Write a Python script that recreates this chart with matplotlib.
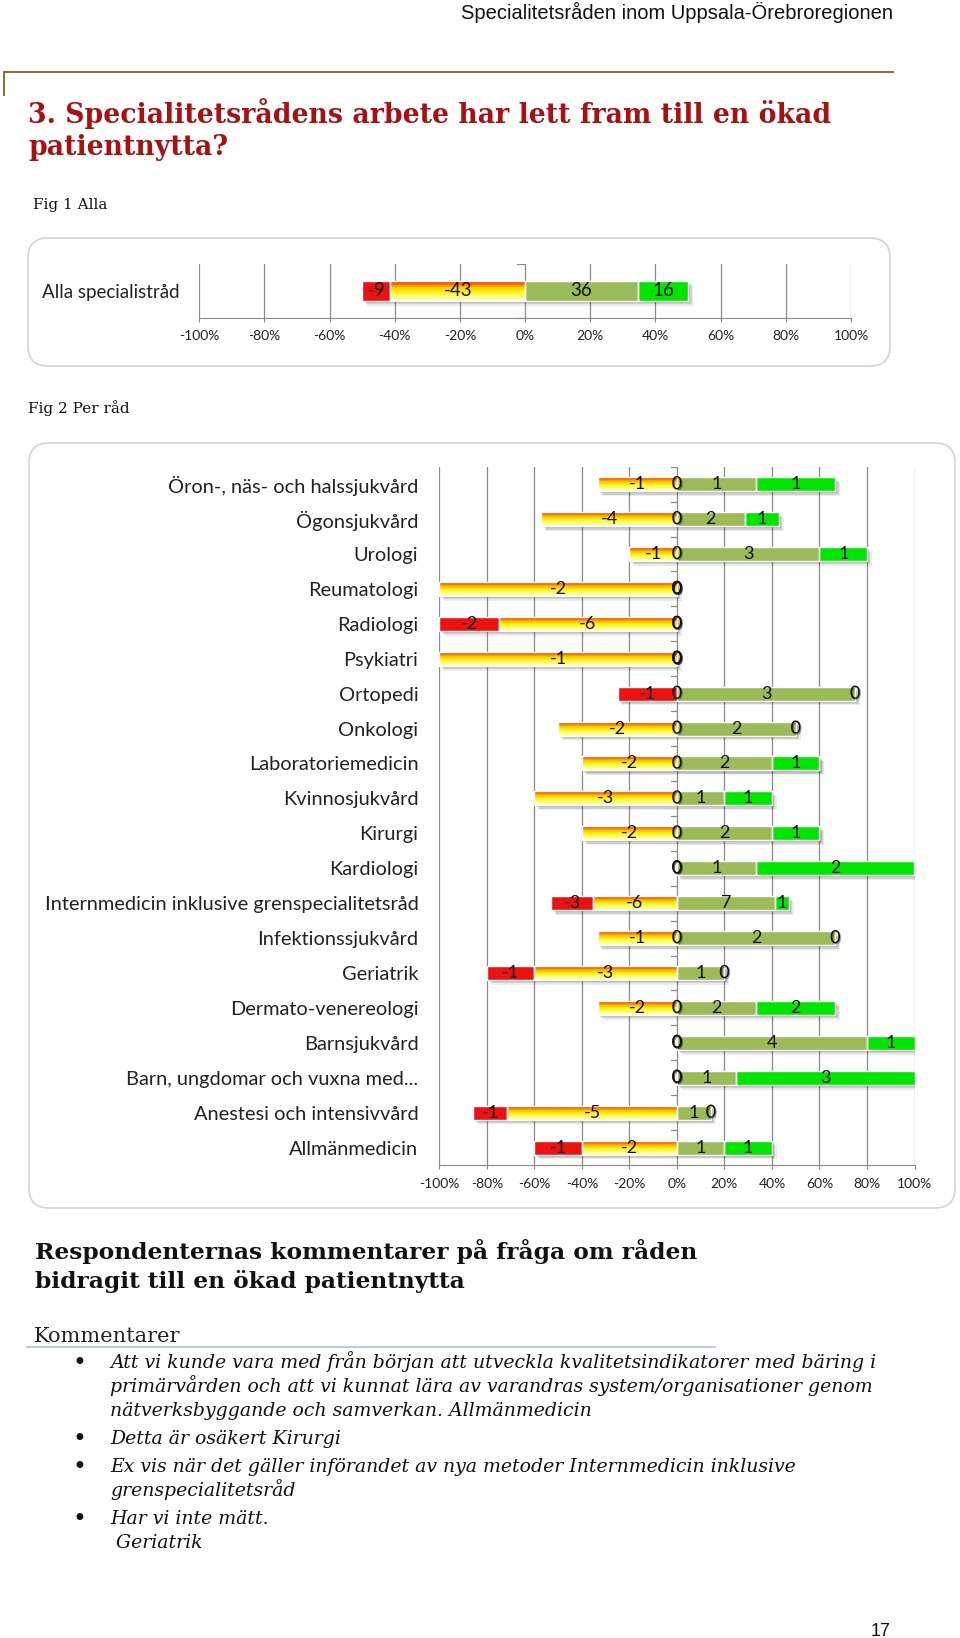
import numpy as np
import matplotlib.pyplot as plt
import matplotlib.patheffects as pe
from matplotlib.patches import FancyBboxPatch
from matplotlib.lines import Line2D
from matplotlib.colors import LinearSegmentedColormap

W, H = 960, 1638

# Fig 1 - all councils
all_label = ["Alla specialistråd"]
all_very_neg = [-9]
all_neg = [-43]
all_pos = [36]
all_very_pos = [16]

# Fig 2 - per council (top to bottom)
councils = [
    "Öron-, näs- och halssjukvård",
    "Ögonsjukvård",
    "Urologi",
    "Reumatologi",
    "Radiologi",
    "Psykiatri",
    "Ortopedi",
    "Onkologi",
    "Laboratoriemedicin",
    "Kvinnosjukvård",
    "Kirurgi",
    "Kardiologi",
    "Internmedicin inklusive grenspecialitetsråd",
    "Infektionssjukvård",
    "Geriatrik",
    "Dermato-venereologi",
    "Barnsjukvård",
    "Barn, ungdomar och vuxna med...",
    "Anestesi och intensivvård",
    "Allmänmedicin",
]
very_neg = [0, 0, 0, 0, -2, 0, -1, 0, 0, 0, 0, 0, -3, 0, -1, 0, 0, 0, -1, -1]
neg = [-1, -4, -1, -2, -6, -1, 0, -2, -2, -3, -2, 0, -6, -1, -3, -2, 0, 0, -5, -2]
pos = [1, 2, 3, 0, 0, 0, 3, 2, 2, 1, 2, 1, 7, 2, 1, 2, 4, 1, 1, 1]
very_pos = [1, 1, 1, 0, 0, 0, 0, 0, 1, 1, 1, 2, 1, 0, 0, 2, 1, 3, 0, 1]

tick_values = [-100, -80, -60, -40, -20, 0, 20, 40, 60, 80, 100]

comments = [
    ["Att vi kunde vara med från början att utveckla kvalitetsindikatorer med bäring i",
     "primärvården och att vi kunnat lära av varandras system/organisationer genom",
     "nätverksbyggande och samverkan. Allmänmedicin"],
    ["Detta är osäkert Kirurgi"],
    ["Ex vis när det gäller införandet av nya metoder Internmedicin inklusive",
     "grenspecialitetsråd"],
    ["Har vi inte mätt.",
     " Geriatrik"],
]

RED = '#EE1111'
OLIVE = '#9BBB59'
GREEN = '#00E600'
GRID = '#8A8A8A'
TITLE_RED = '#AA1010'
BROWN = '#94692D'
SANS = ['Lato', 'DejaVu Sans']
SERIF = ['DejaVu Serif']

grad_cmap = LinearSegmentedColormap.from_list('neg', [
    (0.0, '#E82000'), (0.15, '#FF6A00'), (0.3, '#FFC000'),
    (0.5, '#FFF000'), (0.75, '#FFFF70'), (1.0, '#FFFFE0')])


def page_text(x, y, s, **kw):
    fig.text(x / W, 1 - y / H, s, **kw)


def draw_bars(ax, labels, vneg, ng, ps, vps, bar_h, label_size, cat_size, cat_pad):
    n = len(labels)
    ys = np.arange(n)[::-1]
    grad = np.linspace(0, 1, 64).reshape(-1, 1)
    shadow = [pe.SimplePatchShadow(offset=(1.5, -1.5), shadow_rgbFace='k', alpha=0.12),
              pe.SimplePatchShadow(offset=(2.5, -2.5), shadow_rgbFace='k', alpha=0.12),
              pe.SimplePatchShadow(offset=(3.5, -3.5), shadow_rgbFace='k', alpha=0.08),
              pe.Normal()]
    zero_fx = [pe.SimplePatchShadow(offset=(0.8, -0.8), shadow_rgbFace='k', alpha=0.35), pe.Normal()]
    for i in range(n):
        y = ys[i]
        total = abs(vneg[i]) + abs(ng[i]) + ps[i] + vps[i]
        p_vn = abs(vneg[i]) / total * 100
        p_n = abs(ng[i]) / total * 100
        p_p = ps[i] / total * 100
        p_vp = vps[i] / total * 100
        left = -(p_vn + p_n)
        right = p_p + p_vp

        sh = ax.barh(y, right - left, left=left, height=bar_h, color='white', zorder=2)[0]
        sh.set_path_effects(shadow)

        if p_vn > 0:
            ax.barh(y, p_vn, left=-(p_n + p_vn), height=bar_h, color=RED, zorder=3)
        if p_n > 0:
            b = ax.barh(y, p_n, left=-p_n, height=bar_h, color='#FFE800', zorder=3)[0]
            im = ax.imshow(grad, cmap=grad_cmap, extent=(-p_n, 0, y - bar_h / 2, y + bar_h / 2),
                           origin='upper', aspect='auto', zorder=3.5, interpolation='bilinear')
            im.set_clip_path(b)
        if p_p > 0:
            ax.barh(y, p_p, left=0, height=bar_h, color=OLIVE, zorder=3)
        if p_vp > 0:
            ax.barh(y, p_vp, left=p_p, height=bar_h, color=GREEN, zorder=3)
        # white borders between segments
        for w, l in [(p_vn, -(p_n + p_vn)), (p_n, -p_n), (p_p, 0), (p_vp, p_p)]:
            if w > 0:
                ax.barh(y, w, left=l, height=bar_h, fill=False, edgecolor='white', lw=1.0, zorder=4)

        segs = [(vneg[i], -(p_n + p_vn / 2) if vneg[i] else 0),
                (ng[i], -p_n / 2 if ng[i] else 0),
                (ps[i], p_p / 2),
                (vps[i], p_p + p_vp / 2)]
        for v, x in segs:
            t = ax.text(x, y, str(v), ha='center', va='center', fontsize=label_size,
                        family=SANS, color='#111111', zorder=5)
            if v == 0:
                t.set_path_effects(zero_fx)

    ax.set_xlim(-100, 100)
    ax.set_ylim(-0.5, n - 0.5)
    ax.set_xticks(tick_values)
    ax.set_xticklabels([f'{v}%' for v in tick_values], family=SANS)
    ax.set_yticks(ys)
    ax.set_yticklabels(labels, family=SANS)
    ax.grid(axis='x', color=GRID, lw=0.9)
    ax.set_axisbelow(True)
    ax.patch.set_alpha(0)
    for s in ['top', 'right', 'left']:
        ax.spines[s].set_visible(False)
    ax.spines['bottom'].set_color(GRID)
    ax.tick_params(axis='y', length=0, pad=cat_pad, labelsize=cat_size, labelcolor='#222222')
    ax.tick_params(axis='x', length=3, color=GRID, pad=6, labelsize=10, labelcolor='#222222')
    for b in np.arange(n + 1) - 0.5:
        ax.plot([-2.5, 0], [b, b], color=GRID, lw=0.9, zorder=1)


fig = plt.figure(figsize=(W / 100, H / 100), dpi=100)
fig.patch.set_facecolor('white')

# header
page_text(893, 12, "Specialitetsråden inom Uppsala-Örebroregionen", ha='right', va='center',
          family=['Liberation Sans'], fontsize=14.5, color='#111111')
fig.add_artist(Line2D([4 / W, 893 / W], [1 - 72 / H, 1 - 72 / H], color=BROWN, lw=1.4))
fig.add_artist(Line2D([4 / W, 4 / W], [1 - 72 / H, 1 - 95 / H], color=BROWN, lw=1.4))

# title
page_text(28, 123, "3. Specialitetsrådens arbete har lett fram till en ökad", va='baseline',
          family=SERIF, weight='bold', color=TITLE_RED, fontsize=19.3)
page_text(28, 155, "patientnytta?", va='baseline',
          family=SERIF, weight='bold', color=TITLE_RED, fontsize=19.3)

page_text(33, 209, "Fig 1 Alla", va='baseline', family=SERIF, fontsize=11, color='#111111')
page_text(28, 413, "Fig 2 Per råd", va='baseline', family=SERIF, fontsize=11, color='#111111')

# chart frames
for x0, y0, x1, y1 in [(28, 238, 890, 366), (29, 443, 955, 1208)]:
    box = FancyBboxPatch((x0 / 100, (H - y1) / 100), (x1 - x0) / 100, (y1 - y0) / 100,
                         boxstyle='round,pad=0,rounding_size=0.2', transform=fig.dpi_scale_trans,
                         fc='white', ec='#D4D4D4', lw=1.2, zorder=-1)
    fig.add_artist(box)

ax1 = fig.add_axes([199.2 / W, 1 - 318 / H, (851 - 199.2) / W, 54 / H])
draw_bars(ax1, all_label, all_very_neg, all_neg, all_pos, all_very_pos, 0.37, 13.5, 13.5, 14)

ax2 = fig.add_axes([439.3 / W, 1 - 1165 / H, (914.5 - 439.3) / W, (1165 - 466.7) / H])
draw_bars(ax2, councils, very_neg, neg, pos, very_pos, 0.4, 13, 14.4, 15)

# comments section
page_text(35, 1259, "Respondenternas kommentarer på fråga om råden", va='baseline',
          family=SERIF, weight='bold', fontsize=16.8, color='#111111')
page_text(35, 1288, "bidragit till en ökad patientnytta", va='baseline',
          family=SERIF, weight='bold', fontsize=16.8, color='#111111')
page_text(34, 1342, "Kommentarer", va='baseline', family=SERIF, fontsize=15, color='#222222')
fig.add_artist(Line2D([27 / W, 715 / W], [1 - 1346.5 / H, 1 - 1346.5 / H], color='#A7BAD3', lw=1.1))

y = 1368
for lines in comments:
    page_text(79, y - 5, "•", va='center', ha='center', family=['DejaVu Sans'], fontsize=17,
              color='#111111')
    for line in lines:
        page_text(110, y, line, va='baseline', family=SERIF, style='italic', fontsize=13.6,
                  color='#111111')
        y += 24
    y += 4

page_text(891, 1636, "17", ha='right', va='baseline', family=['Liberation Sans'], fontsize=13,
          color='#111111')

fig.savefig('out.png', dpi=100, facecolor='white')
